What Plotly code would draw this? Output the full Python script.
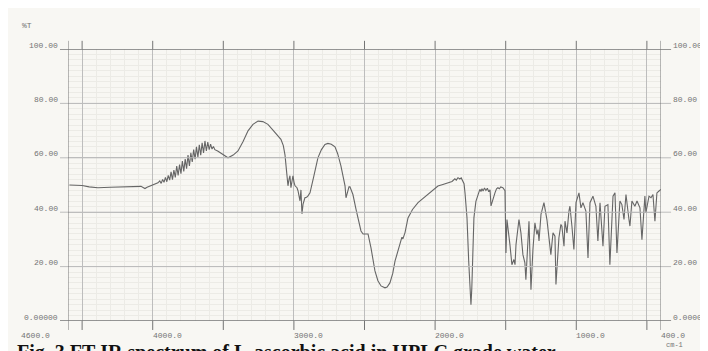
import plotly.graph_objects as go

# ---- data ----
wavenumber = [
    4590, 4586, 4500, 4450, 4388, 4300, 4200, 4100, 4083, 4065, 4055, 4040, 4010, 3985,
    3963, 3950, 3940, 3930, 3920, 3910, 3900, 3890, 3880, 3870, 3860, 3850, 3840, 3830,
    3820, 3810, 3800, 3790, 3780, 3770, 3760, 3750, 3740, 3730, 3720, 3710, 3700, 3690,
    3680, 3670, 3660, 3650, 3640, 3630, 3620, 3610, 3600, 3590, 3580, 3570, 3560, 3540,
    3520, 3500, 3480, 3467, 3430, 3396, 3360, 3325, 3290, 3254, 3220, 3184, 3150, 3113,
    3092, 3075, 3063, 3050, 3042, 3035, 3028, 3021, 3014, 3007, 2999, 2992, 2978, 2971,
    2957, 2950, 2943, 2935, 2922, 2910, 2900, 2886, 2860, 2830, 2805, 2780, 2759, 2735,
    2709, 2690, 2667, 2650, 2638, 2631, 2620, 2610, 2603, 2590, 2582, 2560, 2540, 2525,
    2510, 2490, 2475, 2454, 2426, 2405, 2383, 2355, 2340, 2320, 2300, 2284, 2260, 2242,
    2235, 2228, 2213, 2192, 2160, 2121, 2085, 2050, 2015, 1980, 1945, 1909, 1880, 1860,
    1850, 1838, 1825, 1815, 1803, 1795, 1788, 1781, 1774, 1762, 1752, 1746, 1740, 1733,
    1725, 1711, 1695, 1683, 1675, 1668, 1660, 1650, 1640, 1630, 1620, 1611, 1604, 1590,
    1576, 1565, 1555, 1545, 1535, 1520, 1510, 1505, 1498, 1491, 1470, 1456, 1442, 1434,
    1427, 1406, 1392, 1378, 1364, 1357, 1335, 1321, 1307, 1293, 1279, 1271, 1264, 1250,
    1229, 1208, 1180, 1165, 1151, 1144, 1123, 1109, 1102, 1087, 1080, 1066, 1052, 1045,
    1031, 1017, 1002, 981, 967, 953, 932, 917, 903, 882, 861, 847, 832, 811,
    797, 776, 762, 740, 726, 712, 691, 677, 662, 648, 627, 620, 606, 585,
    570, 549, 535, 514, 507, 485, 471, 457, 443, 429, 414, 400,
]
transmittance = [
    50.0, 50.0, 49.8, 49.3, 49.0, 49.2, 49.4, 49.6, 49.5, 49.0, 48.7, 49.2, 49.8, 50.3,
    50.8, 51.5, 50.6, 52.0, 51.0, 52.8, 51.2, 53.5, 51.8, 54.8, 52.0, 55.5, 52.8, 57.0,
    53.5, 57.5, 54.2, 58.8, 55.0, 59.5, 56.0, 61.0, 57.0, 61.8, 58.5, 63.0, 59.5, 64.0,
    60.2, 64.8, 61.0, 65.5, 61.8, 66.2, 62.5, 65.8, 63.0, 65.0, 63.2, 64.2, 63.0, 62.5,
    61.8, 61.0, 60.3, 60.0, 61.0, 62.5, 66.0, 69.9, 72.3, 73.5, 73.3, 72.3, 70.3, 68.0,
    66.8, 64.5, 61.0, 54.0, 49.7, 52.0, 53.4, 49.0, 52.5, 53.4, 51.0, 49.7, 49.0, 47.9,
    44.2, 48.2, 39.4, 43.0, 45.3, 45.5, 46.0, 47.1, 53.0, 60.0, 63.0, 64.9, 65.3, 65.0,
    64.0, 61.5, 57.0, 53.0, 49.7, 45.3, 47.5, 49.3, 49.3, 47.8, 46.5, 41.0, 36.0, 33.1,
    32.0, 32.0, 32.0, 26.9, 18.4, 14.8, 12.9, 12.2, 12.5, 14.0, 17.5, 22.0, 26.8, 29.5,
    30.8, 30.2, 32.5, 37.9, 41.0, 43.5, 45.0, 46.5, 48.0, 49.6, 50.2, 50.8, 51.3, 52.3,
    51.8, 52.7, 52.2, 52.6, 51.6, 50.5, 47.0, 42.8, 37.9, 22.0, 10.0, 6.0, 12.0, 28.0,
    37.9, 44.0, 47.0, 48.4, 47.6, 48.6, 47.8, 48.9, 48.0, 48.8, 47.5, 48.2, 42.3, 45.0,
    47.1, 48.6, 49.0, 48.6, 49.3, 49.0, 48.4, 47.9, 25.0, 37.3, 28.1, 20.7, 22.6, 20.7,
    28.1, 37.3, 32.4, 24.4, 21.4, 15.2, 36.7, 11.5, 26.3, 36.1, 31.8, 33.6, 29.4, 39.2,
    43.5, 37.3, 24.4, 32.4, 31.2, 13.4, 30.6, 35.5, 34.9, 27.5, 36.7, 32.4, 40.4, 42.2,
    34.9, 26.3, 43.5, 47.1, 41.6, 43.5, 40.4, 23.2, 43.5, 45.9, 42.2, 29.4, 43.5, 27.5,
    42.2, 42.8, 20.7, 45.9, 47.1, 25.0, 44.1, 42.8, 37.3, 46.5, 37.3, 34.9, 44.1, 42.2,
    44.1, 41.6, 29.9, 45.9, 39.8, 45.9, 45.3, 46.5, 36.7, 47.1, 47.8, 48.4,
]

y_tick_vals = [100, 80, 60, 40, 20, 0]
y_tick_text = ["100.00", "80.00", "60.00", "40.00", "20.00", "0.00000"]
x_tick_vals = [4000, 3000, 2000, 1000, 400]
x_tick_text = ["4000.0", "3000.0", "2000.0", "1000.0", "400.0"]
x_start_label = "4600.0"
x_unit = "cm-1"
y_unit = "%T"
caption = "Fig. 3 FT-IR spectrum of L-ascorbic acid in HPLC grade water"

X_MIN, X_MAX = 400, 4600
INK = "#747474"
GRID = "#bdbdbd"
MINOR = "#ecebe6"
PAPER = "#f8f7f3"
MONO = "Liberation Mono, DejaVu Sans Mono, monospace"

fig = go.Figure()
fig.add_trace(go.Scatter(
    x=wavenumber, y=transmittance, mode="lines",
    line=dict(color="#666666", width=1.1), hoverinfo="skip", showlegend=False,
))

shapes = []
for v in y_tick_vals:
    strong = v in (0, 100)
    shapes.append(dict(type="line", xref="paper", yref="y", x0=-0.0135, x1=1.017,
                       y0=v, y1=v, line=dict(color=INK if strong else GRID,
                                              width=1.3 if strong else 1)))
for xv in (X_MIN, X_MAX):
    shapes.append(dict(type="line", xref="x", yref="paper", x0=xv, x1=xv,
                       y0=-0.033, y1=1.03, line=dict(color=INK, width=1)))
for xv in range(500, 4600, 500):
    shapes.append(dict(type="line", xref="x", yref="paper", x0=xv, x1=xv,
                       y0=1.0, y1=1.03, line=dict(color=INK, width=1)))
    shapes.append(dict(type="line", xref="x", yref="paper", x0=xv, x1=xv,
                       y0=-0.033, y1=0.0, line=dict(color=INK, width=1)))

LABEL_FONT = dict(family=MONO, size=8, color=INK)
annotations = []
for v, t in zip(y_tick_vals, y_tick_text):
    annotations.append(dict(text=t, xref="paper", yref="y", x=-0.0135, y=v,
                            xanchor="right", yanchor="middle", yshift=4, showarrow=False,
                            font=LABEL_FONT))
    annotations.append(dict(text=t, xref="paper", yref="y", x=1.017, y=v,
                            xanchor="left", yanchor="middle", yshift=4, showarrow=False,
                            font=LABEL_FONT))
for v, t in zip(x_tick_vals, x_tick_text):
    annotations.append(dict(text=t, xref="x", yref="paper", x=v, y=-0.053,
                            xanchor="left", yanchor="middle", xshift=-2, showarrow=False,
                            font=LABEL_FONT))
annotations.append(dict(text=x_start_label, xref="paper", yref="paper", x=-0.083, y=-0.053,
                        xanchor="left", yanchor="middle", showarrow=False, font=LABEL_FONT))
annotations.append(dict(text=x_unit, xref="paper", yref="paper", x=1.005, y=-0.09,
                        xanchor="left", yanchor="middle", showarrow=False,
                        font=dict(family=MONO, size=7, color=INK)))
annotations.append(dict(text=y_unit, xref="paper", yref="paper", x=-0.081, y=1.085,
                        xanchor="left", yanchor="middle", showarrow=False, font=LABEL_FONT))
annotations.append(dict(text="<b>" + caption + "</b>", xref="paper", yref="paper",
                        x=-0.09, y=-0.068, xanchor="left", yanchor="top", showarrow=False,
                        font=dict(family="Liberation Serif, serif", size=20, color="#111111")))

fig.update_layout(
    width=708, height=351,
    margin=dict(l=60, r=55, t=41, b=38),
    paper_bgcolor=PAPER, plot_bgcolor=PAPER,
    shapes=shapes, annotations=annotations,
    xaxis=dict(range=[X_MAX, X_MIN], showticklabels=False, ticks="", zeroline=False,
               showline=False, showgrid=True, dtick=500, tick0=0, gridcolor=GRID, gridwidth=1,
               minor=dict(dtick=100, showgrid=True, gridcolor=MINOR, gridwidth=1)),
    yaxis=dict(range=[0, 100], showticklabels=False, ticks="", zeroline=False,
               showline=False, showgrid=True, dtick=20, gridcolor=GRID, gridwidth=1,
               minor=dict(dtick=2, showgrid=True, gridcolor=MINOR, gridwidth=1)),
)

fig.write_html("out.html")
